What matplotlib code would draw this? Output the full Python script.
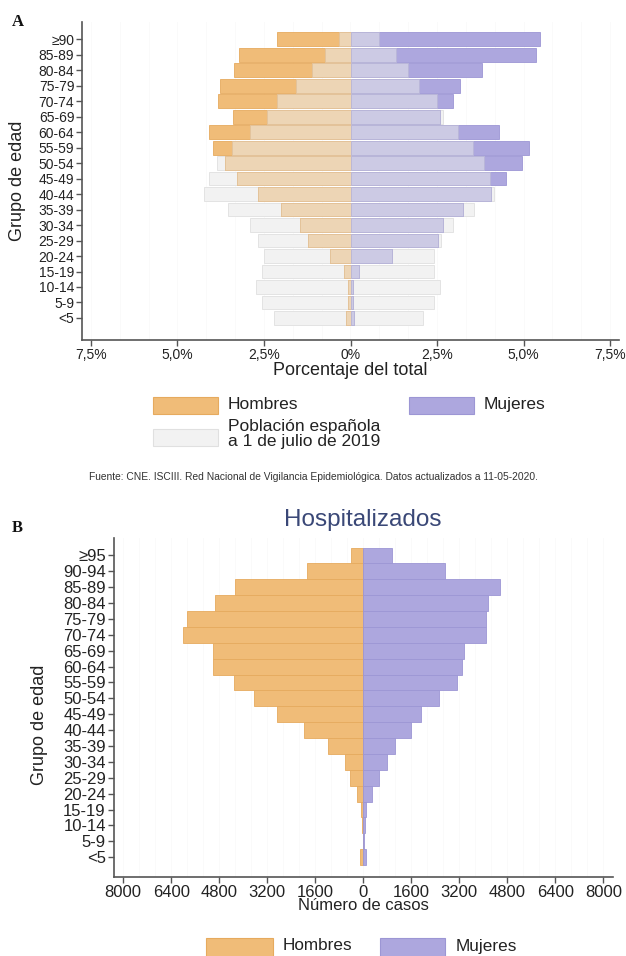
import numpy as np
import matplotlib
matplotlib.use('Agg')
import matplotlib.pyplot as plt
from matplotlib.patches import Rectangle

plt.rcParams['font.family'] = ['Liberation Sans', 'DejaVu Sans']

# Panel A: % del total (casos y poblacion), de <5 a >=90
grupos_a = ['<5', '5-9', '10-14', '15-19', '20-24', '25-29', '30-34', '35-39',
            '40-44', '45-49', '50-54', '55-59', '60-64', '65-69', '70-74',
            '75-79', '80-84', '85-89', '≥90']
hombres_casos = [0.12, 0.06, 0.08, 0.20, 0.58, 1.22, 1.45, 2.00, 2.68, 3.28,
                 3.63, 3.97, 4.09, 3.39, 3.82, 3.76, 3.36, 3.23, 2.13]
hombres_pob = [2.20, 2.55, 2.73, 2.57, 2.50, 2.68, 2.91, 3.55, 4.23, 4.09,
               3.86, 3.42, 2.91, 2.42, 2.13, 1.57, 1.12, 0.73, 0.32]
mujeres_casos = [0.10, 0.06, 0.08, 0.26, 1.20, 2.53, 2.67, 3.25, 4.07, 4.49,
                 4.97, 5.16, 4.29, 2.59, 2.96, 3.17, 3.80, 5.36, 5.47]
mujeres_pob = [2.09, 2.42, 2.58, 2.42, 2.40, 2.63, 2.95, 3.57, 4.16, 4.03,
               3.86, 3.55, 3.11, 2.67, 2.51, 1.99, 1.65, 1.32, 0.81]
ticks_a = [-7.5, -5.0, -2.5, 0, 2.5, 5.0, 7.5]
ticklabels_a = ['7,5%', '5,0%', '2,5%', '0%', '2,5%', '5,0%', '7,5%']

# Panel B: hospitalizados (numero de casos), de <5 a >=95
grupos_b = ['<5', '5-9', '10-14', '15-19', '20-24', '25-29', '30-34', '35-39',
            '40-44', '45-49', '50-54', '55-59', '60-64', '65-69', '70-74',
            '75-79', '80-84', '85-89', '90-94', '≥95']
hombres_hosp = [106, 13, 27, 66, 199, 425, 624, 1182, 1978, 2881, 3651, 4315,
                5019, 5019, 6015, 5882, 4926, 4289, 1872, 412]
mujeres_hosp = [106, 27, 53, 106, 292, 518, 783, 1062, 1593, 1925, 2523, 3134,
                3306, 3359, 4076, 4076, 4143, 4554, 2722, 969]
ticks_b = [-8000, -6400, -4800, -3200, -1600, 0, 1600, 3200, 4800, 6400, 8000]

NARANJA = '#F0BC78'
NARANJA_B = '#E6AA5E'
TAN = '#EDD5B5'
TAN_B = '#E2C39C'
MORADO = '#ADA7DE'
MORADO_B = '#9C96D4'
LAVANDA = '#CCCAE4'
LAVANDA_B = '#B9B6D8'
GRIS = '#F2F2F2'
GRIS_B = '#E0E0E0'
EJE = '#555555'
TXT = '#222222'
REJILLA = '#F8F8F8'

fig = plt.figure(figsize=(6.26, 9.56), dpi=100)
W, H = 626, 956


def fx(px):
    return px / W


def fy(py):
    return 1 - py / H


def estilo(ax, size):
    for s in ['top', 'right']:
        ax.spines[s].set_visible(False)
    for s in ['left', 'bottom']:
        ax.spines[s].set_color(EJE)
        ax.spines[s].set_linewidth(1.2)
    ax.tick_params(axis='both', colors=EJE, labelcolor=TXT, labelsize=size,
                   length=4, width=1, pad=1.5)
    ax.set_axisbelow(True)


# ---------------- Panel A ----------------
axA = fig.add_axes([fx(82), fy(340), fx(619) - fx(82), (340 - 22) / H])
y = np.arange(len(grupos_a))
hc = np.array(hombres_casos)
hp = np.array(hombres_pob)
mc = np.array(mujeres_casos)
mp = np.array(mujeres_pob)
h = 0.9
for g in np.arange(-7.5, 7.6, 2.5 / 3):
    axA.axvline(g, color=REJILLA, lw=0.5, zorder=0)
axA.barh(y, -hp, height=h, color=GRIS, edgecolor=GRIS_B, lw=0.6, zorder=1)
axA.barh(y, mp, height=h, color=GRIS, edgecolor=GRIS_B, lw=0.6, zorder=1)
axA.barh(y, -hc, height=h, color=NARANJA, edgecolor=NARANJA_B, lw=0.6, zorder=2)
axA.barh(y, mc, height=h, color=MORADO, edgecolor=MORADO_B, lw=0.6, zorder=2)
axA.barh(y, -np.minimum(hc, hp), height=h, color=TAN, edgecolor=TAN_B, lw=0.6, zorder=3)
axA.barh(y, np.minimum(mc, mp), height=h, color=LAVANDA, edgecolor=LAVANDA_B, lw=0.6, zorder=3)
axA.set_xlim(-7.76, 7.76)
axA.set_ylim(-1.42, 19.1)
axA.set_yticks(y)
axA.set_yticklabels(grupos_a)
axA.set_xticks(ticks_a)
axA.set_xticklabels(ticklabels_a)
estilo(axA, 10)
axA.set_xlabel('Porcentaje del total', fontsize=13, color=TXT, labelpad=0)
fig.text(fx(18), fy(181), 'Grupo de edad', rotation=90, fontsize=13,
         color=TXT, ha='center', va='center')
fig.text(fx(12), fy(22), 'A', fontsize=12, fontweight='bold',
         family='Liberation Serif', ha='left', va='center', color='#111111')

# leyenda A
def parche(x0, y0, w, hh, fc, ec):
    fig.add_artist(Rectangle((fx(x0), fy(y0 + hh)), w / W, hh / H,
                             transform=fig.transFigure, facecolor=fc,
                             edgecolor=ec, lw=0.8))


parche(153, 397, 65, 17, NARANJA, NARANJA_B)
fig.text(fx(228), fy(405), 'Hombres', fontsize=12.5, color=TXT, va='center')
parche(409, 397, 65, 17, MORADO, MORADO_B)
fig.text(fx(484), fy(405), 'Mujeres', fontsize=12.5, color=TXT, va='center')
parche(153, 429, 65, 17, GRIS, GRIS_B)
fig.text(fx(228), fy(434), 'Población española\na 1 de julio de 2019',
         fontsize=12.5, color=TXT, va='center', linespacing=0.95)
fig.text(fx(313), fy(477),
         'Fuente: CNE. ISCIII. Red Nacional de Vigilancia Epidemiológica. '
         'Datos actualizados a 11-05-2020.',
         fontsize=7.4, color='#333333', ha='center', va='center')

# ---------------- Panel B ----------------
axB = fig.add_axes([fx(113.5), fy(877), fx(613) - fx(113.5), (877 - 538) / H])
yb = np.arange(len(grupos_b))
for g in np.arange(-8000, 8001, 1600 / 3):
    axB.axvline(g, color=REJILLA, lw=0.5, zorder=0)
axB.barh(yb, -np.array(hombres_hosp), height=1.0, color=NARANJA,
         edgecolor=NARANJA_B, lw=0.6, zorder=2)
axB.barh(yb, np.array(mujeres_hosp), height=1.0, color=MORADO,
         edgecolor=MORADO_B, lw=0.6, zorder=2)
axB.set_xlim(-8320, 8320)
axB.set_ylim(-1.25, 20.1)
axB.set_yticks(yb)
axB.set_yticklabels(grupos_b)
axB.set_xticks(ticks_b)
axB.set_xticklabels([str(abs(t)) for t in ticks_b])
estilo(axB, 12)
axB.set_xlabel('Número de casos', fontsize=12, color=TXT, labelpad=-1)
fig.text(fx(40), fy(725), 'Grupo de edad', rotation=90, fontsize=13,
         color=TXT, ha='center', va='center')
fig.text(fx(363), fy(520), 'Hospitalizados', fontsize=17.5, color='#3A4877',
         ha='center', va='center')
fig.text(fx(12), fy(528), 'B', fontsize=12, fontweight='bold',
         family='Liberation Serif', ha='left', va='center', color='#111111')

parche(206, 938, 67, 20, NARANJA, NARANJA_B)
fig.text(fx(283), fy(946), 'Hombres', fontsize=12.3, color=TXT, va='center')
parche(380, 938, 65, 20, MORADO, MORADO_B)
fig.text(fx(456), fy(946), 'Mujeres', fontsize=12.3, color=TXT, va='center')

fig.savefig('out.png', dpi=100)
